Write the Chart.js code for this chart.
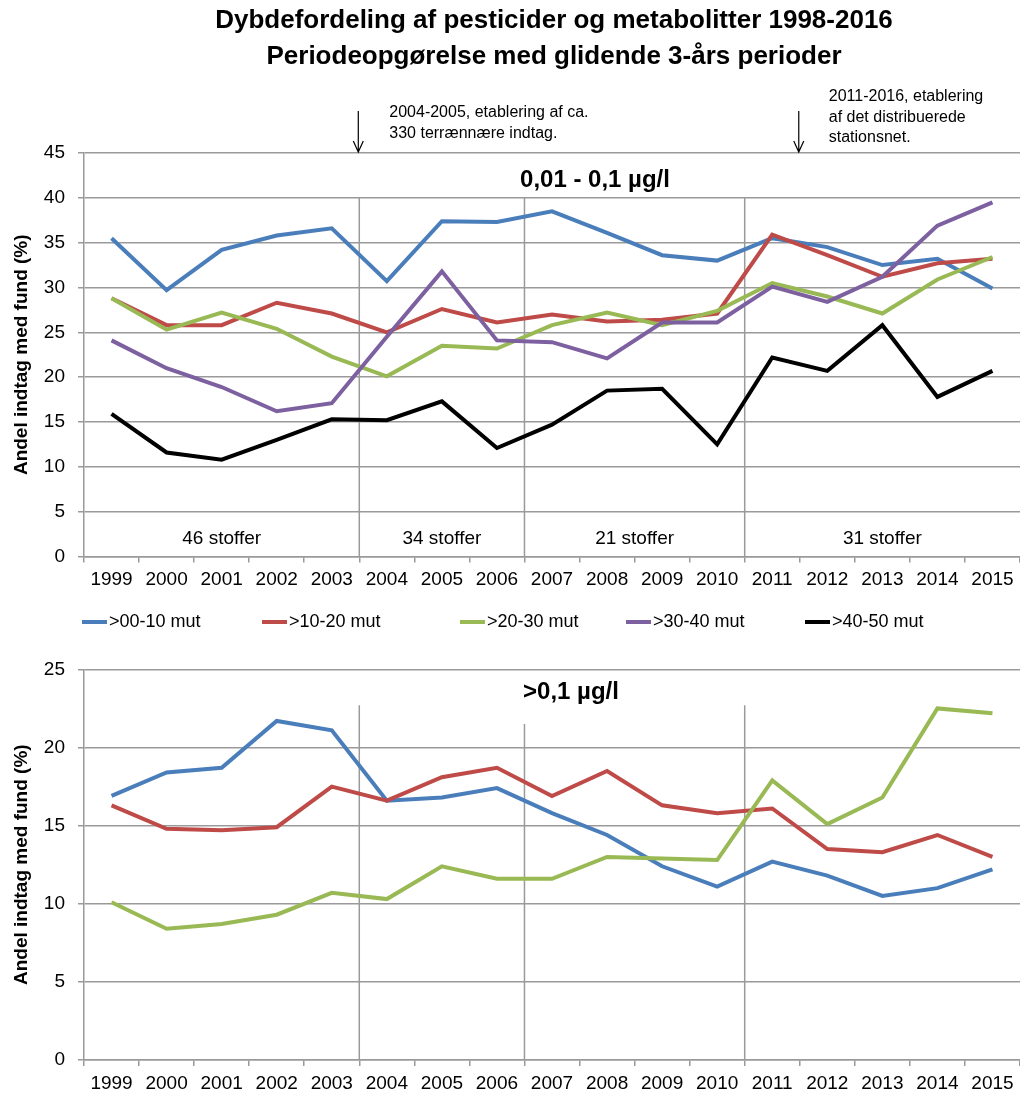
<!DOCTYPE html>
<html>
<head>
<meta charset="utf-8">
<script src="https://cdn.jsdelivr.net/npm/chart.js@4.4.1/dist/chart.umd.min.js"></script>
<style>
  html, body { margin: 0; padding: 0; background: #fff; }
  #wrap { position: relative; width: 1020px; height: 1093px; }
  .box { position: absolute; left: 0; width: 1020px; }
  #topBox { top: 0; height: 645px; }
  #bottomBox { top: 645px; height: 448px; }
</style>
</head>
<body>
<div id="wrap">
  <div class="box" id="topBox"><canvas id="chartTop"></canvas></div>
  <div class="box" id="bottomBox"><canvas id="chartBottom"></canvas></div>
</div>
<script>
const years = ["1999", "2000", "2001", "2002", "2003", "2004", "2005", "2006", "2007",
  "2008", "2009", "2010", "2011", "2012", "2013", "2014", "2015"];

const seriesNames = [">00-10 mut", ">10-20 mut", ">20-30 mut", ">30-40 mut", ">40-50 mut"];
const seriesColors = ["#4A7EBB", "#BE4B48", "#98B954", "#7D60A0", "#000000"];

// 0,01 - 0,1 µg/l
const low00_10 = [35.5, 29.7, 34.2, 35.8, 36.6, 30.7, 37.4, 37.3, 38.5, 36.1, 33.6, 33.0, 35.5, 34.5, 32.5, 33.2, 29.9];
const low10_20 = [28.8, 25.8, 25.8, 28.3, 27.1, 25.0, 27.6, 26.1, 27.0, 26.2, 26.4, 27.1, 35.9, 33.6, 31.2, 32.7, 33.2];
const low20_30 = [28.8, 25.3, 27.2, 25.4, 22.3, 20.1, 23.5, 23.2, 25.8, 27.2, 25.8, 27.4, 30.5, 29.0, 27.1, 30.9, 33.4];
const low30_40 = [24.1, 21.0, 18.9, 16.2, 17.1, 24.5, 31.8, 24.1, 23.9, 22.1, 26.1, 26.1, 30.1, 28.4, 31.2, 36.9, 39.5];
const low40_50 = [15.9, 11.6, 10.8, 13.0, 15.3, 15.2, 17.3, 12.1, 14.7, 18.5, 18.7, 12.5, 22.2, 20.7, 25.8, 17.8, 20.7];

// >0,1 µg/l
const high00_10 = [16.9, 18.4, 18.7, 21.7, 21.1, 16.6, 16.8, 17.4, 15.8, 14.4, 12.4, 11.1, 12.7, 11.8, 10.5, 11.0, 12.2];
const high10_20 = [16.3, 14.8, 14.7, 14.9, 17.5, 16.6, 18.1, 18.7, 16.9, 18.5, 16.3, 15.8, 16.1, 13.5, 13.3, 14.4, 13.0];
const high20_30 = [10.1, 8.4, 8.7, 9.3, 10.7, 10.3, 12.4, 11.6, 11.6, 13.0, 12.9, 12.8, 17.9, 15.1, 16.8, 22.5, 22.2];

const yTicksTop = [0, 5, 10, 15, 20, 25, 30, 35, 40, 45];
const yTicksBottom = [0, 5, 10, 15, 20, 25];

const periodLabels = ["46 stoffer", "34 stoffer", "21 stoffer", "31 stoffer"];
const periodStarts = ["1999", "2004", "2007", "2011"];

const titleLines = ["Dybdefordeling af pesticider og metabolitter 1998-2016",
  "Periodeopgørelse med glidende 3-års perioder"];
const noteA = ["2004-2005, etablering af ca.", "330 terrænnære indtag."];
const noteB = ["2011-2016, etablering", "af det distribuerede", "stationsnet."];
const yTitle = "Andel indtag med fund (%)";

const FONT = "'Liberation Sans', Arial, sans-serif";
const GRID = "#9a9a9a";

// x pixel of the boundary just before a given year
function boundaryX(chart, year) {
  const x = chart.scales.x;
  const i = year === null ? years.length : years.indexOf(year);
  return (x.getPixelForValue(i - 1) + x.getPixelForValue(i)) / 2;
}

const dividerPlugin = {
  id: "dividers",
  beforeDatasetsDraw(chart, args, opts) {
    const { ctx, scales: { y } } = chart;
    ctx.save();
    ctx.strokeStyle = GRID;
    ctx.lineWidth = 1.5;
    opts.lines.forEach(d => {
      const px = boundaryX(chart, d.year);
      ctx.beginPath();
      ctx.moveTo(px, y.getPixelForValue(d.from));
      ctx.lineTo(px, y.bottom);
      ctx.stroke();
    });
    ctx.restore();
  }
};

function drawArrow(ctx, x, y1, y2) {
  ctx.beginPath();
  ctx.moveTo(x, y1);
  ctx.lineTo(x, y2);
  ctx.moveTo(x - 5, y2 - 11);
  ctx.lineTo(x, y2);
  ctx.lineTo(x + 5, y2 - 11);
  ctx.stroke();
}

const topTextPlugin = {
  id: "topText",
  afterDraw(chart) {
    const { ctx, chartArea, scales: { y } } = chart;
    ctx.save();
    ctx.fillStyle = "#000";
    ctx.textBaseline = "middle";

    // main title
    ctx.textAlign = "center";
    ctx.font = "bold 26px " + FONT;
    const cx = (chartArea.left + chartArea.right) / 2 + 2;
    ctx.fillText(titleLines[0], cx, 21);
    ctx.fillText(titleLines[1], cx, 57);

    // notes with arrows
    ctx.strokeStyle = "#000";
    ctx.lineWidth = 1.2;
    const ax1 = boundaryX(chart, "2004") - 1;
    const ax2 = boundaryX(chart, "2012") - 1;
    drawArrow(ctx, ax1, 111, chartArea.top - 1);
    drawArrow(ctx, ax2, 111, chartArea.top - 1);
    ctx.textAlign = "left";
    ctx.font = "16px " + FONT;
    noteA.forEach((t, i) => ctx.fillText(t, ax1 + 31, 113 + i * 21));
    noteB.forEach((t, i) => ctx.fillText(t, ax2 + 30, 97 + i * 20.5));

    // panel title
    ctx.textAlign = "center";
    ctx.font = "bold 24px " + FONT;
    ctx.fillText("0,01 - 0,1 µg/l", 595, 180);

    // compound counts per period
    ctx.font = "19px " + FONT;
    periodLabels.forEach((t, i) => {
      const x0 = boundaryX(chart, periodStarts[i]);
      const x1 = boundaryX(chart, i + 1 < periodStarts.length ? periodStarts[i + 1] : null);
      ctx.fillText(t, (x0 + x1) / 2, y.bottom - 18);
    });

    // legend
    const legendX = [82, 262, 460, 626, 805];
    const ly = 622;
    ctx.textAlign = "left";
    ctx.font = "18px " + FONT;
    chart.data.datasets.forEach((ds, i) => {
      ctx.strokeStyle = ds.borderColor;
      ctx.lineWidth = 4;
      ctx.beginPath();
      ctx.moveTo(legendX[i], ly);
      ctx.lineTo(legendX[i] + 25, ly);
      ctx.stroke();
      ctx.fillText(ds.label, legendX[i] + 27, ly);
    });
    ctx.restore();
  }
};

const bottomTextPlugin = {
  id: "bottomText",
  afterDraw(chart) {
    const { ctx } = chart;
    ctx.save();
    ctx.fillStyle = "#000";
    ctx.textBaseline = "middle";
    ctx.textAlign = "center";
    ctx.font = "bold 24px " + FONT;
    ctx.fillText(">0,1 µg/l", 571, 47);
    ctx.restore();
  }
};

function makeDatasets(arrays) {
  return arrays.map((data, i) => ({
    label: seriesNames[i],
    data: data,
    borderColor: seriesColors[i],
    backgroundColor: seriesColors[i],
    borderWidth: 4,
    pointRadius: 0,
    tension: 0,
    fill: false,
    order: arrays.length - i
  }));
}

function makeScales(ticks) {
  return {
    x: {
      type: "category",
      offset: true,
      afterFit: s => { s.height = 33; },
      grid: { offset: true, drawOnChartArea: false, drawTicks: true, tickLength: 6, color: GRID, lineWidth: 1.5 },
      border: { color: GRID, width: 1.5 },
      ticks: { color: "#000", font: { family: FONT, size: 19 }, padding: 6, maxRotation: 0, autoSkip: false }
    },
    y: {
      min: ticks[0],
      max: ticks[ticks.length - 1],
      afterFit: s => { s.width = 84; },
      grid: { color: GRID, lineWidth: 1.5, tickLength: 6 },
      border: { color: GRID, width: 1.5 },
      ticks: { stepSize: ticks[1] - ticks[0], color: "#000", font: { family: FONT, size: 19 }, padding: 13 },
      title: { display: true, text: yTitle, color: "#000", font: { family: FONT, size: 19, weight: "bold" }, padding: { top: 10, bottom: 0 } }
    }
  };
}

const baseOptions = {
  responsive: true,
  maintainAspectRatio: false,
  animation: false,
  devicePixelRatio: 1,
  events: []
};

const chartTop = new Chart(document.getElementById("chartTop").getContext("2d"), {
  type: "line",
  data: {
    labels: years,
    datasets: makeDatasets([low00_10, low10_20, low20_30, low30_40, low40_50])
  },
  options: Object.assign({}, baseOptions, {
    layout: { padding: { top: 153, right: 0, bottom: 55.5, left: 0 } },
    scales: makeScales(yTicksTop),
    plugins: {
      legend: { display: false },
      tooltip: { enabled: false },
      dividers: { lines: [{ year: "2004", from: 40 }, { year: "2007", from: 40 }, { year: "2011", from: 40 }] }
    }
  }),
  plugins: [dividerPlugin, topTextPlugin]
});

const chartBottom = new Chart(document.getElementById("chartBottom").getContext("2d"), {
  type: "line",
  data: {
    labels: years,
    datasets: makeDatasets([high00_10, high10_20, high20_30])
  },
  options: Object.assign({}, baseOptions, {
    layout: { padding: { top: 19, right: 0, bottom: 0, left: 0 } },
    scales: makeScales(yTicksBottom),
    plugins: {
      legend: { display: false },
      tooltip: { enabled: false },
      dividers: { lines: [{ year: "2004", from: 22.7 }, { year: "2007", from: 21.5 }, { year: "2011", from: 22.7 }] }
    }
  }),
  plugins: [dividerPlugin, bottomTextPlugin]
});
</script>
</body>
</html>
